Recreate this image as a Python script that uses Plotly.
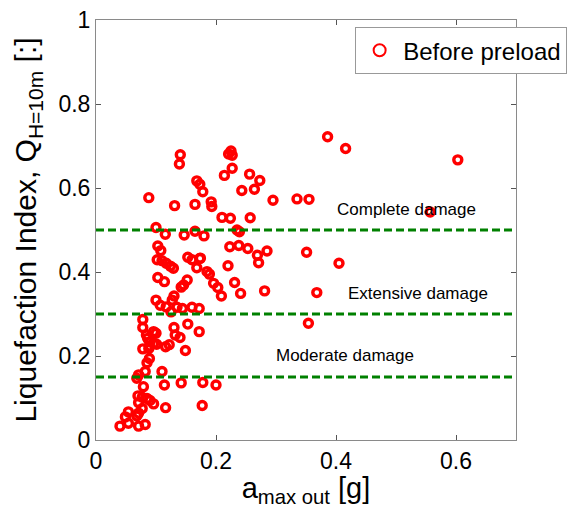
import plotly.graph_objects as go

# Data
a_max = [0.386, 0.416, 0.603, 0.557, 0.405, 0.354, 0.368, 0.351, 0.335, 0.355, 0.295,
         0.225, 0.221, 0.227, 0.227, 0.214, 0.256, 0.273, 0.243, 0.264, 0.257, 0.210,
         0.224, 0.235, 0.239, 0.223, 0.238, 0.253, 0.269, 0.285, 0.271, 0.220, 0.231,
         0.241, 0.281, 0.209, 0.200,
         0.1405, 0.139, 0.168, 0.173, 0.178, 0.192, 0.193, 0.165, 0.131, 0.088, 0.100,
         0.1155, 0.147, 0.165, 0.180, 0.174, 0.185, 0.189, 0.196, 0.203, 0.103, 0.108,
         0.102, 0.110, 0.117, 0.124, 0.129, 0.153, 0.160, 0.173, 0.168, 0.103, 0.114,
         0.152, 0.146, 0.142, 0.130, 0.127, 0.100, 0.107, 0.117, 0.135, 0.144, 0.160,
         0.172, 0.125, 0.172,
         0.078, 0.078, 0.084, 0.086, 0.096, 0.100, 0.130, 0.153, 0.132, 0.140, 0.090,
         0.089, 0.096, 0.101, 0.078, 0.088, 0.116, 0.122, 0.149, 0.089, 0.085, 0.082,
         0.071, 0.068, 0.110, 0.079, 0.114, 0.142, 0.178, 0.070, 0.077, 0.085, 0.090,
         0.071, 0.096, 0.116, 0.177, 0.077, 0.071, 0.068, 0.054, 0.049, 0.054, 0.040,
         0.071, 0.082]
q_index = [0.722, 0.694, 0.667, 0.543, 0.421, 0.278, 0.351, 0.447, 0.574, 0.573, 0.571,
           0.688, 0.681, 0.678, 0.647, 0.630, 0.633, 0.618, 0.594, 0.597, 0.529, 0.530,
           0.528, 0.500, 0.496, 0.460, 0.463, 0.456, 0.440, 0.450, 0.422, 0.415, 0.375,
           0.349, 0.355, 0.343, 0.131,
           0.679, 0.657, 0.617, 0.609, 0.591, 0.567, 0.556, 0.561, 0.558, 0.577, 0.506,
           0.490, 0.488, 0.497, 0.486, 0.433, 0.401, 0.395, 0.373, 0.363, 0.462, 0.451,
           0.429, 0.427, 0.421, 0.414, 0.409, 0.435, 0.429, 0.432, 0.410, 0.387, 0.377,
           0.381, 0.369, 0.364, 0.343, 0.333, 0.333, 0.321, 0.317, 0.316, 0.313, 0.316,
           0.313, 0.305, 0.258,
           0.287, 0.268, 0.250, 0.242, 0.258, 0.254, 0.268, 0.276, 0.250, 0.244, 0.234,
           0.224, 0.230, 0.228, 0.217, 0.218, 0.222, 0.227, 0.213, 0.194, 0.184, 0.163,
           0.155, 0.147, 0.163, 0.127, 0.131, 0.136, 0.137, 0.105, 0.102, 0.099, 0.094,
           0.089, 0.086, 0.077, 0.082, 0.075, 0.064, 0.057, 0.067, 0.055, 0.040, 0.033,
           0.033, 0.037]

thresholds = [0.5, 0.3, 0.15]
damage_labels = ["Complete damage", "Extensive damage", "Moderate damage"]
label_x = [0.517, 0.537, 0.415]
label_y = [0.548, 0.348, 0.202]

x_ticks = [0, 0.2, 0.4, 0.6]
y_ticks = [0, 0.2, 0.4, 0.6, 0.8, 1]

FONT = "Arial, Liberation Sans, sans-serif"

fig = go.Figure()
fig.add_trace(go.Scatter(
    x=a_max, y=q_index, mode="markers", name="Before preload",
    marker=dict(symbol="circle-open", size=8, color="#ff0000",
                line=dict(color="#ff0000", width=3.4)),
))

for t in thresholds:
    fig.add_shape(type="line", xref="paper", yref="y", x0=0, x1=1, y0=t, y1=t,
                  line=dict(color="#008000", width=3, dash="8px,4px"))

for txt, lx, ly in zip(damage_labels, label_x, label_y):
    fig.add_annotation(x=lx, y=ly, text=txt, showarrow=False,
                       font=dict(family=FONT, size=17, color="black"))

axis_common = dict(
    showgrid=False, zeroline=False, showline=True, linecolor="#8a8a8a", linewidth=1,
    mirror="ticks", ticks="inside", ticklen=5, tickcolor="#555555",
    tickfont=dict(family=FONT, size=23, color="black"),
)

fig.update_xaxes(range=[0, 0.7], tickvals=x_ticks, ticktext=["0", "0.2", "0.4", "0.6"],
                 title=dict(text="a<sub>max out</sub> [g]", font=dict(family=FONT, size=29, color="black"),
                            standoff=0),
                 **axis_common)
fig.update_yaxes(range=[0, 1], tickvals=y_ticks, ticktext=["0", "0.2", "0.4", "0.6", "0.8", "1"],
                 title=dict(text="Liquefaction Index, Q<sub>H=10m</sub> [:]",
                            font=dict(family=FONT, size=30, color="black"), standoff=12),
                 **axis_common)

fig.update_layout(
    width=572, height=508,
    margin=dict(l=96, r=56, t=20, b=68, autoexpand=False),
    plot_bgcolor="white", paper_bgcolor="white",
    showlegend=True,
    legend=dict(x=0.617, y=0.983, xanchor="left", yanchor="top",
                bgcolor="white", bordercolor="#999999", borderwidth=1,
                font=dict(family=FONT, size=24, color="black"),
                itemwidth=37, itemsizing="constant"),
)

fig.write_html("out.html")
